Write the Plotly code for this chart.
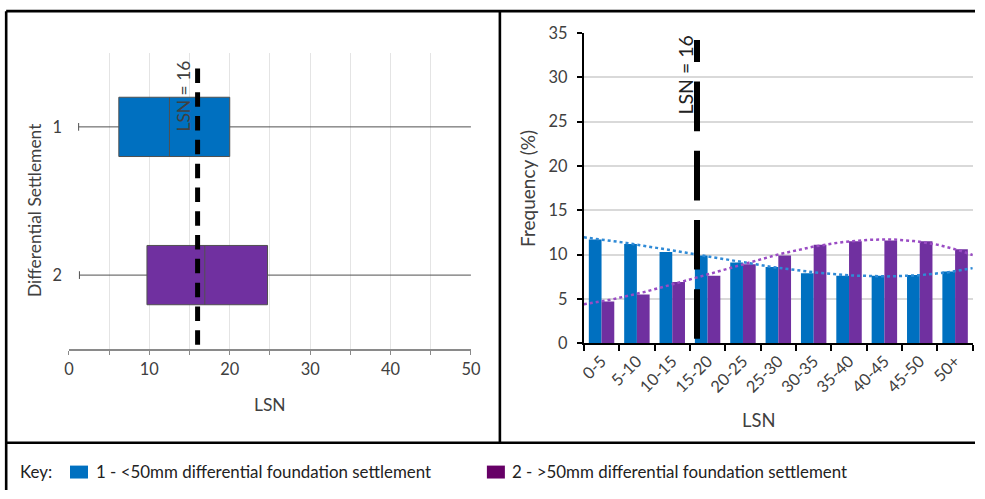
import numpy as np
import plotly.graph_objects as go

# ---- data ----
# box-plot statistics of LSN for each differential settlement group
groups = [1, 2]
q1_vals = [6.2, 9.7]
median_vals = [12.5, 16.9]
q3_vals = [20.0, 24.7]
lower_whisker = [1.2, 1.3]
upper_whisker = [55.0, 55.0]

# frequency distribution (%) of LSN bins
lsn_bins = ["0-5", "5-10", "10-15", "15-20", "20-25", "25-30",
            "30-35", "35-40", "40-45", "45-50", "50+"]
freq_lt50 = [11.7, 11.2, 10.3, 9.9, 9.1, 8.6, 7.9, 7.6, 7.6, 7.7, 8.1]
freq_gt50 = [4.7, 5.5, 6.9, 7.6, 8.9, 9.9, 11.1, 11.5, 11.6, 11.5, 10.6]

lsn_threshold = 16
freq_ticks = [0, 5, 10, 15, 20, 25, 30, 35]

BLUE = "#0070C0"
PURPLE = "#7030A0"
FONT = "Lato"
TXT = "#404040"
DARK = "#222222"

W, H = 985, 499
# placement of the figure inside the page window (offset and scale per axis)
AX, SX = 7.0, 0.985
AY, SY = 9.0, 0.967
FS = 1.025  # font compensation for the window scale


def px(x):
    return min(max((x - AX) / SX / W, 0.0), 1.0)


def py(y):
    return min(max(1 - (y - AY) / SY / H, 0.0), 1.0)


def fsz(s):
    return round(s * FS, 1)


fig = go.Figure()

# ---- left panel: box plots ----
for g, q1, md, q3, lo, hi, col in zip(groups, q1_vals, median_vals, q3_vals,
                                      lower_whisker, upper_whisker, [BLUE, PURPLE]):
    fig.add_trace(go.Box(
        y=[g], q1=[q1], median=[md], q3=[q3], lowerfence=[lo], upperfence=[hi],
        orientation="h", fillcolor=col, line=dict(color="#505050", width=1),
        width=0.4, whiskerwidth=0.13, boxpoints=False, showlegend=False,
        xaxis="x", yaxis="y",
    ))

# ---- right panel: grouped frequency bars ----
idx = np.arange(len(lsn_bins))
fig.add_trace(go.Bar(x=idx, y=freq_lt50, marker=dict(color=BLUE, line=dict(width=0)),
                     showlegend=False, xaxis="x2", yaxis="y2"))
fig.add_trace(go.Bar(x=idx, y=freq_gt50, marker=dict(color=PURPLE, line=dict(width=0)),
                     showlegend=False, xaxis="x2", yaxis="y2"))

# polynomial trendlines fitted to each bar series
xt = np.linspace(-0.5, len(lsn_bins) - 0.5, 120)
for vals, col in [(freq_lt50, "#2F8AD6"), (freq_gt50, "#9A4CC4")]:
    coef = np.polyfit(idx, vals, 3)
    fig.add_trace(go.Scatter(x=xt, y=np.polyval(coef, xt), mode="lines",
                             line=dict(color=col, width=2.5, dash="dot"),
                             showlegend=False, hoverinfo="skip",
                             xaxis="x2", yaxis="y2"))

tick_font = dict(family=FONT, size=fsz(16), color=TXT)

fig.update_layout(
    width=W, height=H,
    margin=dict(l=0, r=0, t=0, b=0),
    paper_bgcolor="white", plot_bgcolor="white",
    barmode="group", bargap=0.28, bargroupgap=0,
    font=dict(family=FONT, color=TXT),
    xaxis=dict(domain=[px(71), px(473)], range=[0, 50], dtick=10,
               showline=True, linecolor="#8A8A8A", linewidth=1.5,
               ticks="outside", ticklen=4, tickcolor="#8A8A8A",
               showgrid=True, gridcolor="#E4E4E4", zeroline=False,
               minor=dict(dtick=5, ticks="outside", ticklen=4, tickcolor="#8A8A8A",
                          showgrid=True, gridcolor="#E4E4E4"),
               tickfont=tick_font, anchor="y"),
    yaxis=dict(domain=[py(350), py(52)], range=[2.5, 0.5],
               tickvals=groups, ticktext=[str(g) for g in groups],
               showline=False, showgrid=False, zeroline=False, ticks="",
               ticklabelstandoff=6, tickfont=tick_font, anchor="x"),
    xaxis2=dict(domain=[px(586), px(975)], range=[-0.5, len(lsn_bins) - 0.5],
                tickvals=list(idx), ticktext=lsn_bins, tickangle=-45,
                ticks="", showline=True, linecolor="black", linewidth=2,
                showgrid=False, zeroline=False,
                minor=dict(tick0=-0.5, dtick=1, ticks="outside", ticklen=6,
                           tickcolor="black", tickwidth=2, showgrid=False),
                tickfont=tick_font, anchor="y2"),
    yaxis2=dict(domain=[py(344), py(32)], range=[0, 35], tickvals=freq_ticks,
                showline=True, linecolor="black", linewidth=2,
                ticks="outside", ticklen=5, tickcolor="black", tickwidth=1.5,
                showgrid=True, gridcolor="#D9D9D9", gridwidth=1.5, zeroline=False,
                ticklabelstandoff=6, tickfont=tick_font, anchor="x2"),
)

# LSN threshold markers
fig.add_shape(type="line", xref="x", yref="y", x0=lsn_threshold, x1=lsn_threshold,
              y0=2.47, y1=0.59, line=dict(color="black", width=5, dash="14.5px,9.3px"))
thr_cat = lsn_threshold / 5 - 0.5
fig.add_shape(type="line", xref="x2", yref="y2", x0=thr_cat, x1=thr_cat,
              y0=0.5, y1=34.2, line=dict(color="black", width=6, dash="49.6px,19.6px"))

# panel frame
frame = dict(color="black", width=2.6)
top = py(6) - 1.2 / H
left = px(7) + 1.2 / W
for x0, y0, x1, y1 in [(left, top, 1, top), (left, top, left, 0),
                       (px(502), top, px(502), py(444)), (left, py(444), 1, py(444))]:
    fig.add_shape(type="line", xref="paper", yref="paper",
                  x0=x0, y0=y0, x1=x1, y1=y1, line=frame)

# key swatches
fig.add_shape(type="rect", xref="paper", yref="paper", x0=px(72), x1=px(90),
              y0=py(480), y1=py(467), fillcolor=BLUE, line=dict(width=0))
fig.add_shape(type="rect", xref="paper", yref="paper", x0=px(489), x1=px(507),
              y0=py(480), y1=py(467), fillcolor="#660066", line=dict(width=0))


def label(text, x, y, size, angle=0, xanchor="center", color=TXT):
    fig.add_annotation(text=text, xref="paper", yref="paper", x=px(x), y=py(y),
                       xanchor=xanchor, yanchor="middle", showarrow=False,
                       textangle=angle, font=dict(family=FONT, size=fsz(size), color=color))


label("LSN = 16", 186, 95, 17, angle=-90)
label("LSN = 16", 688, 74, 19, angle=-90, color=DARK)
label("Differential Settlement", 37, 210, 17, angle=-90)
label("LSN", 272, 406, 17)
label("Frequency (%)", 529, 188, 18.5, angle=-90)
label("LSN", 761, 421, 18)
label("Key:", 20, 473, 16.5, xanchor="left", color=DARK)
label("1 - <50mm differential foundation settlement", 96, 473, 16.5, xanchor="left", color=DARK)
label("2 - >50mm differential foundation settlement", 512, 473, 16.5, xanchor="left", color=DARK)

fig.write_html("out.html")
